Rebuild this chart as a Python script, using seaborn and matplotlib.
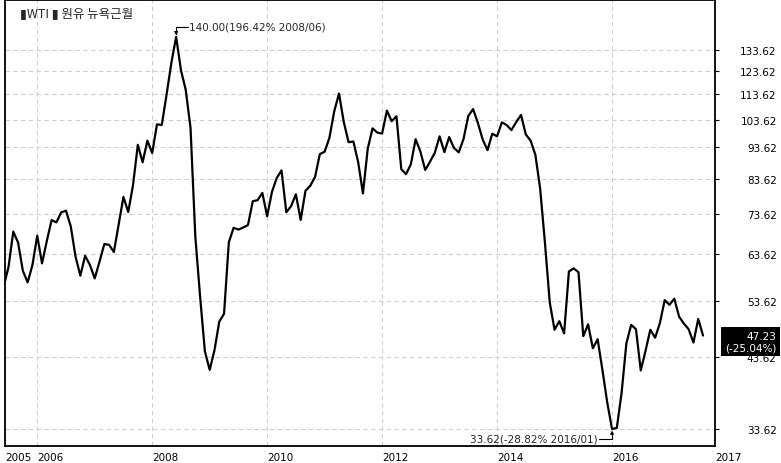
import numpy as np
import pandas as pd
import matplotlib as mpl
mpl.use('Agg')
import matplotlib.pyplot as plt
import matplotlib.ticker as mticker
import seaborn as sns

# WTI monthly close, 2005/06 .. 2017/08
months = pd.period_range('2005-06', '2017-08', freq='M')
wti_2005 = [56.50, 60.57, 68.94, 66.24, 59.76, 57.32, 61.04]
wti_2006 = [67.92, 61.41, 66.63, 71.88, 71.29, 73.93, 74.40, 70.26, 62.91, 58.73, 63.13, 61.05]
wti_2007 = [58.14, 61.79, 65.87, 65.71, 64.01, 70.68, 78.21, 74.04, 81.66, 94.53, 88.71, 95.98]
wti_2008 = [91.75, 101.84, 101.58, 113.46, 127.35, 140.00, 124.08, 115.46, 100.64, 67.81, 54.43, 44.60]
wti_2009 = [41.68, 44.76, 49.66, 51.12, 66.31, 69.89, 69.45, 69.96, 70.61, 77.00, 77.28, 79.36]
wti_2010 = [72.89, 79.66, 83.76, 86.15, 73.97, 75.63, 78.95, 71.92, 79.97, 81.43, 84.11, 91.38]
wti_2011 = [92.19, 96.97, 106.72, 113.93, 102.70, 95.42, 95.70, 88.81, 79.20, 93.19, 100.36, 98.83]
wti_2012 = [98.48, 107.07, 103.02, 104.87, 86.53, 84.96, 88.06, 96.47, 92.19, 86.24, 88.91, 91.82]
wti_2013 = [97.49, 92.05, 97.23, 93.46, 91.97, 96.56, 105.03, 107.65, 102.33, 96.38, 92.72, 98.42]
wti_2014 = [97.49, 102.59, 101.58, 99.74, 102.71, 105.37, 98.17, 95.96, 91.16, 80.54, 66.15, 53.27]
wti_2015 = [48.24, 49.76, 47.60, 59.63, 60.30, 59.47, 47.12, 49.20, 45.09, 46.59, 41.65, 37.04]
wti_2016 = [33.62, 33.75, 38.34, 45.92, 49.10, 48.33, 41.60, 44.70, 48.24, 46.86, 49.44, 53.72]
wti_2017 = [52.81, 54.01, 50.60, 49.33, 48.32, 46.04, 50.17, 47.23]
wti_close = (wti_2005 + wti_2006 + wti_2007 + wti_2008 + wti_2009 + wti_2010 + wti_2011
             + wti_2012 + wti_2013 + wti_2014 + wti_2015 + wti_2016 + wti_2017)

y_ticks = [33.62, 43.62, 53.62, 63.62, 73.62, 83.62, 93.62, 103.62, 113.62, 123.62, 133.62]
y_tick_labels = ['33.62', '43.62', '53.62', '63.62', '73.62', '83.62',
                 '93.62', '103.62', '113.62', '123.62', '133.62']
year_labels = ['2005', '2006', '2008', '2010', '2012', '2014', '2016', '2017']

title_text = '▮WTI ▮ 원유 뉴욕근월'
peak_text = '140.00(196.42% 2008/06)'
low_text = '33.62(-28.82% 2016/01)'
last_text = '47.23\n(-25.04%)'

sns.set_style('white')
plt.rcParams['font.family'] = ['DejaVu Sans']

fig = plt.figure(figsize=(7.81, 4.64), dpi=100)
ax = fig.add_axes([5 / 781, 17 / 464, 710 / 781, 446 / 464])

df = pd.DataFrame({'idx': np.arange(len(wti_close)), 'close': wti_close})
sns.lineplot(data=df, x='idx', y='close', ax=ax, color='black', linewidth=1.6)

ax.set_yscale('log')
ax.set_ylim(31.6, 160.1)
x_lo, x_hi = 0.27, 148.5
ax.set_xlim(x_lo, x_hi)
ax.set_xlabel('')
ax.set_ylabel('')

# y axis on the right, right-aligned labels
ax.yaxis.tick_right()
ax.yaxis.set_major_locator(mticker.FixedLocator(y_ticks))
ax.yaxis.set_major_formatter(mticker.FixedFormatter(y_tick_labels))
ax.yaxis.set_minor_locator(mticker.NullLocator())
ax.tick_params(axis='y', which='major', right=True, length=3, width=0.8,
               pad=41.5, labelsize=7.5, colors='black')
for lab in ax.get_yticklabels():
    lab.set_horizontalalignment('right')

# year ticks: every other January, plus the chart edges
jan_pos = np.where((months.month == 1) & (months.year % 2 == 0))[0]
x_ticks = [x_lo] + list(jan_pos) + [x_hi]
ax.set_xticks(x_ticks)
ax.set_xticklabels(year_labels)
ax.tick_params(axis='x', length=4, width=0.8, pad=0.5, labelsize=7.5, colors='black')
for lab in ax.get_xticklabels():
    lab.set_horizontalalignment('left')

ax.grid(True, which='major', color='#cfcfcf', linestyle=(0, (4, 3)), linewidth=0.8)
for s in ax.spines.values():
    s.set_color('black')
    s.set_linewidth(1.3)

# annotations for high / low, leader line starts right at the text edge
i_peak = int(np.argmax(wti_close))
i_low = int(np.argmin(wti_close))
arrow_peak = dict(arrowstyle='-|>', connectionstyle='angle,angleA=0,angleB=90,rad=0',
                  color='black', lw=0.8, shrinkA=1, shrinkB=1, mutation_scale=5,
                  patchA=None, relpos=(0, 0.5))
arrow_low = dict(arrowstyle='-|>', connectionstyle='angle,angleA=0,angleB=90,rad=0',
                 color='black', lw=0.8, shrinkA=1, shrinkB=1, mutation_scale=5,
                 patchA=None, relpos=(1, 0.5))
ax.annotate(peak_text, xy=(i_peak, wti_close[i_peak]), xytext=(13, 10),
            textcoords='offset pixels', ha='left', va='center', fontsize=7.5,
            arrowprops=arrow_peak)
ax.annotate(low_text, xy=(i_low, wti_close[i_low]), xytext=(-14, -10),
            textcoords='offset pixels', ha='right', va='center', fontsize=7.5,
            arrowprops=arrow_low)

# last value box, partly hiding the 43.62 label like the original
ax.annotate(last_text, xy=(1, wti_close[-1]), xycoords=ax.get_yaxis_transform(),
            xytext=(61, -6), textcoords='offset pixels', ha='right', va='center',
            multialignment='right', fontsize=7.5, color='white', zorder=10,
            annotation_clip=False,
            bbox=dict(boxstyle='square,pad=0.35', facecolor='black', edgecolor='none'))

fig.text(20 / 781, 1 - 14 / 464, title_text, ha='left', va='center', fontsize=9,
         family=['Noto Sans CJK KR', 'DejaVu Sans'])

fig.savefig('out.png', dpi=100, facecolor='white')
